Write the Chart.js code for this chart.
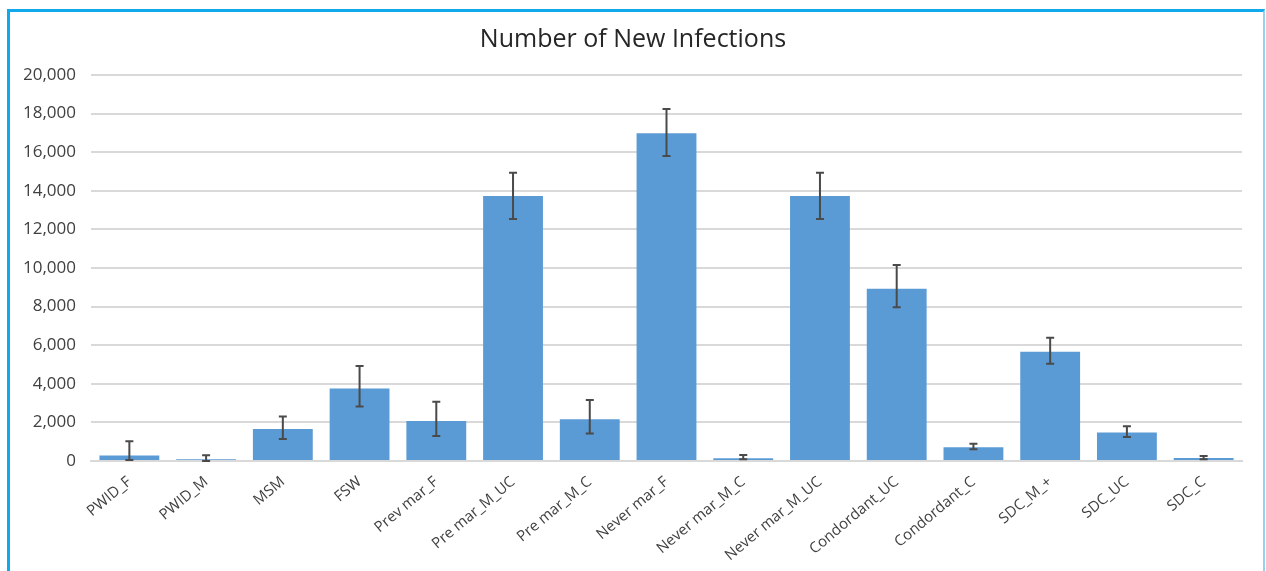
<!DOCTYPE html>
<html>
<head>
<meta charset="utf-8">
<script src="https://cdn.jsdelivr.net/npm/chart.js@4/dist/chart.umd.min.js"></script>
<style>
  body { margin: 0; background: #fff; overflow: hidden; }
  #frame {
    position: absolute; left: 7px; top: 9px; width: 1253px; height: 600px;
    border-left: 3px solid #12A8EC; border-top: 3px solid #12A8EC;
    border-right: 2px solid #93D3EE;
  }
  #chart { position: absolute; left: 0; top: 0; }
</style>
</head>
<body>
<div id="frame"></div>
<canvas id="chart" width="1266" height="571"></canvas>
<script>
// groups on the x axis
const groups = [
  'PWID_F', 'PWID_M', 'MSM', 'FSW', 'Prev mar_F', 'Pre mar_M_UC', 'Pre mar_M_C',
  'Never mar_F', 'Never mar_M_C', 'Never mar_M_UC', 'Condordant_UC', 'Condordant_C',
  'SDC_M_+', 'SDC_UC', 'SDC_C'
];

// new infections
const newInfections = [280, 90, 1660, 3760, 2070, 13730, 2160, 16980, 140, 13730, 8930, 710, 5660, 1480, 150];

// error bar ends
const errLow  = [50, 0, 1140, 2820, 1300, 12540, 1420, 15800, 90, 12540, 7960, 610, 5040, 1250, 90];
const errHigh = [1020, 300, 2310, 4920, 3070, 14940, 3160, 18240, 310, 14940, 10150, 900, 6390, 1800, 260];

const yTicks = { min: 0, max: 20000, step: 2000 };

const FONT = "'Open Sans', 'Noto Sans', sans-serif";

// draws the whiskers on top of the bars
const errorBars = {
  id: 'errorBars',
  afterDatasetsDraw(chart) {
    const meta = chart.getDatasetMeta(0);
    const y = chart.scales.y;
    const ctx = chart.ctx;
    ctx.save();
    ctx.strokeStyle = '#4a4a4a';
    ctx.lineWidth = 2;
    meta.data.forEach((bar, i) => {
      const top = y.getPixelForValue(errHigh[i]);
      const bot = y.getPixelForValue(errLow[i]);
      const x = bar.x;
      ctx.beginPath();
      ctx.moveTo(x, top); ctx.lineTo(x, bot);
      ctx.moveTo(x - 4, top); ctx.lineTo(x + 4, top);
      ctx.moveTo(x - 4, bot); ctx.lineTo(x + 4, bot);
      ctx.stroke();
    });
    ctx.restore();
  }
};

new Chart(document.getElementById('chart'), {
  type: 'bar',
  data: {
    labels: groups,
    datasets: [{
      label: 'Number of New Infections',
      data: newInfections,
      backgroundColor: '#5B9BD5',
      barPercentage: 0.78,
      categoryPercentage: 1
    }]
  },
  options: {
    responsive: false,
    animation: false,
    layout: { padding: { top: 0, right: 24, bottom: 0, left: 24 } },
    plugins: {
      legend: { display: false },
      tooltip: { enabled: false },
      title: {
        display: true,
        text: 'Number of New Infections',
        color: '#262626',
        font: { family: FONT, size: 25, weight: 'normal' },
        padding: { top: 25, bottom: 20 }
      }
    },
    scales: {
      x: {
        grid: { display: false },
        border: { display: true, color: '#D9D9D9', width: 2 },
        ticks: {
          color: '#404040',
          font: { family: FONT, size: 15 },
          minRotation: 40,
          maxRotation: 40,
          padding: 4
        },
        afterFit(scale) { scale.height = 110; }
      },
      y: {
        min: yTicks.min,
        max: yTicks.max,
        grid: { color: '#D9D9D9', lineWidth: 2, drawTicks: false },
        border: { display: false },
        ticks: {
          stepSize: yTicks.step,
          color: '#404040',
          font: { family: FONT, size: 17 },
          padding: 15,
          callback: v => v.toLocaleString('en-US')
        },
        afterFit(scale) { scale.width = 67; }
      }
    }
  },
  plugins: [errorBars]
});
</script>
</body>
</html>
